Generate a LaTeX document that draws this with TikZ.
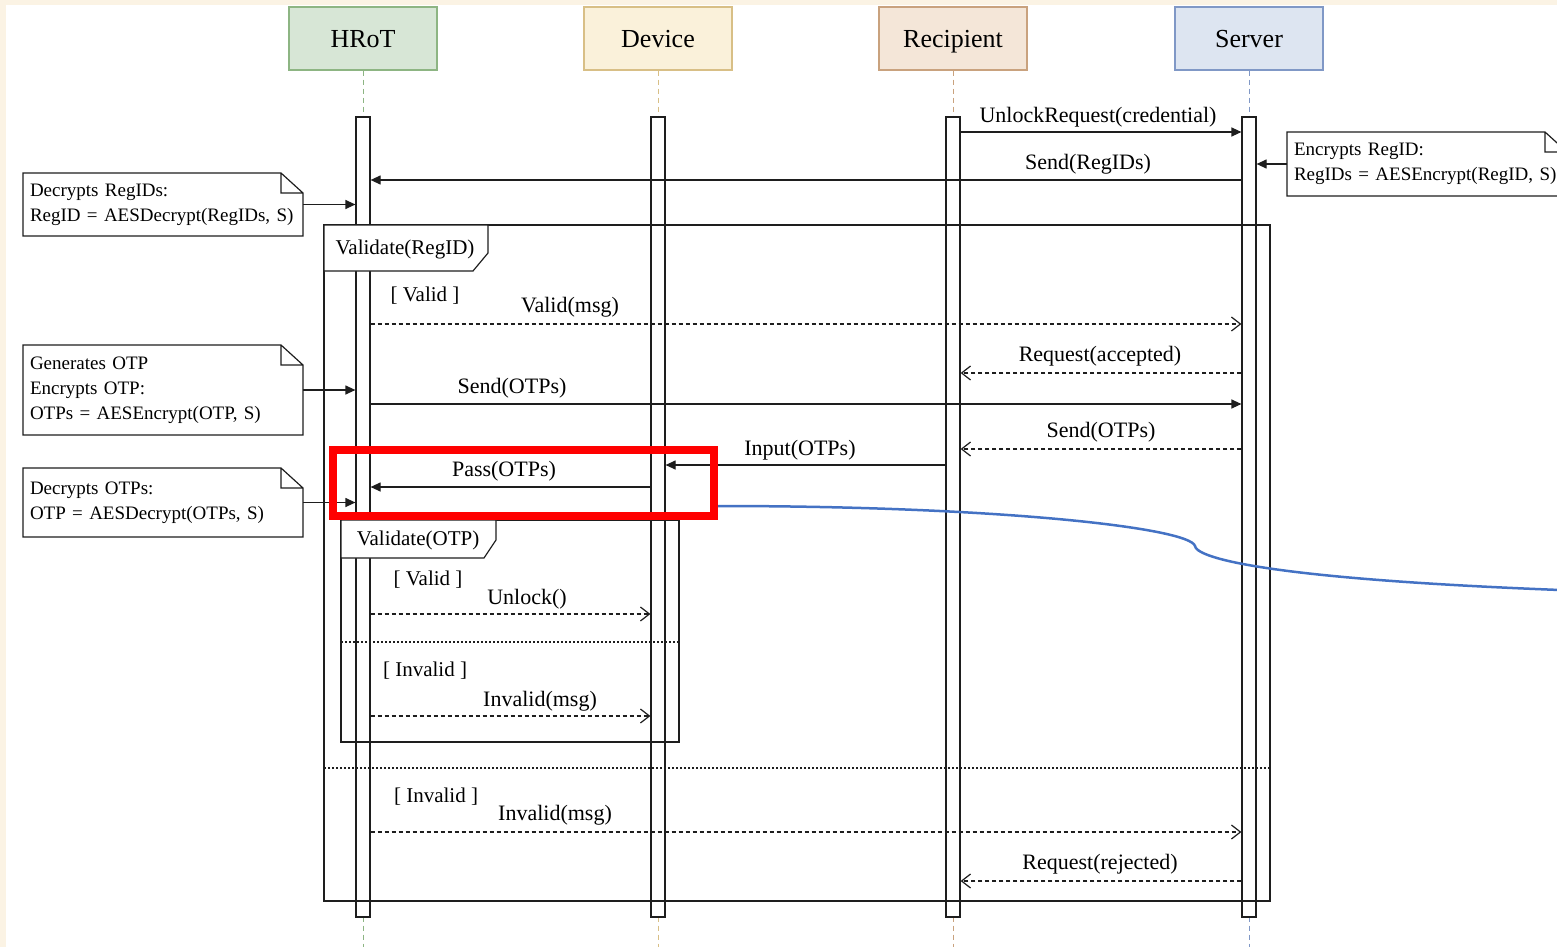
\documentclass[tikz,border=0pt]{standalone}
\usepackage{fontspec}
\setmainfont{Liberation Serif}
\usetikzlibrary{arrows.meta}

\definecolor{paper}{HTML}{FBF3E4}
\definecolor{ink}{HTML}{1E1E1E}
\definecolor{hrotfill}{HTML}{D7E6D6}
\definecolor{hrotedge}{HTML}{8DB583}
\definecolor{devfill}{HTML}{FAF1DA}
\definecolor{devedge}{HTML}{D8BF86}
\definecolor{recfill}{HTML}{F4E6D8}
\definecolor{recedge}{HTML}{C9A27E}
\definecolor{srvfill}{HTML}{DDE5F1}
\definecolor{srvedge}{HTML}{8098C6}
\definecolor{link}{HTML}{4472C4}

\begin{document}
\begin{tikzpicture}[x=0.5pt, y=-0.5pt, line width=0.6pt,
  head/.style={draw, line width=0.6pt, minimum width=74pt, minimum height=31.5pt, text height=8.6pt, text depth=0pt, font=\fontsize{13}{15}\selectfont},
  life/.style={dash pattern=on 2.5pt off 2pt, line width=0.5pt},
  bar/.style={draw=ink, fill=white, minimum width=7pt, minimum height=400pt, inner sep=0pt},
  msg/.style={draw=ink, -{Triangle[length=5pt, width=4.5pt]}},
  reply/.style={draw=ink, dash pattern=on 2pt off 1.5pt, -{Straight Barb[length=4.5pt, width=7pt]}},
  lbl/.style={font=\fontsize{11}{13}\selectfont, inner sep=0pt, yshift=-1pt},
  guard/.style={font=\fontsize{10.5}{12}\selectfont, inner sep=0pt, yshift=-1pt},
  note/.style={minimum width=140pt, text width=133pt, align=left, inner sep=3.5pt, outer sep=0pt, font=\fontsize{9.5}{12.5}\selectfont},
  fragbox/.style={draw=ink},
  fragtab/.style={draw=ink, fill=white},
  split/.style={draw=ink, dash pattern=on 1pt off 1pt}]

  % page
  \clip (0,0) rectangle (1557,947);
  \fill[paper] (0,0) rectangle (1557,947);
  \fill[white] (6,5) rectangle (1557,947);

  % participants
  \node[head, fill=hrotfill, draw=hrotedge] (hrot) at (363,38.5) {HRoT};
  \node[head, fill=devfill, draw=devedge] (dev) at (658,38.5) {Device};
  \node[head, fill=recfill, draw=recedge] (rec) at (953,38.5) {Recipient};
  \node[head, fill=srvfill, draw=srvedge] (srv) at (1249,38.5) {Server};

  % lifelines and activation bars
  \foreach \p/\b/\c in {hrot/hbar/hrotedge, dev/dbar/devedge, rec/rbar/recedge, srv/sbar/srvedge} {
    \draw[life, draw=\c] (\p.south) -- (\p.south |- 0,947);
    \node[bar] (\b) at (\p.south |- 0,517) {};
  }

  % outer fragment
  \draw[fragbox] (324,225) rectangle (1270,901);
  \draw[fragtab] (324,225) -- (488,225) -- (488,253) -- (473,271) -- (324,271) -- cycle;
  \node[guard] (fregid) at (405,247) {Validate(RegID)};
  \draw[split] (324,768) -- (1270,768);

  % inner fragment
  \draw[fragbox] (341,520) rectangle (679,742);
  \draw[fragtab] (341,520) -- (496,520) -- (496,540) -- (484,558) -- (341,558) -- cycle;
  \node[guard] (fotp) at (418,538) {Validate(OTP)};
  \draw[split] (341,642) -- (679,642);

  % messages
  \draw[msg] (rbar.east |- 0,132) -- (sbar.west |- 0,132);
  \node[lbl] (lunlock) at (1098,115) {UnlockRequest(credential)};
  \draw[msg] (sbar.west |- 0,180) -- (hbar.east |- 0,180);
  \node[lbl] (lregids) at (1088,162) {Send(RegIDs)};

  \node[guard] (gvalid) at (425,294) {[ Valid ]};
  \draw[reply] (hbar.east |- 0,324) -- (sbar.west |- 0,324);
  \node[lbl] (lvalid) at (570,305) {Valid(msg)};
  \draw[reply] (sbar.west |- 0,373) -- (rbar.east |- 0,373);
  \node[lbl] (laccept) at (1100,354) {Request(accepted)};
  \draw[msg] (hbar.east |- 0,404) -- (sbar.west |- 0,404);
  \node[lbl] (lsend) at (512,386) {Send(OTPs)};
  \draw[reply] (sbar.west |- 0,449) -- (rbar.east |- 0,449);
  \node[lbl] (lsendback) at (1101,430) {Send(OTPs)};
  \draw[msg] (rbar.west |- 0,465) -- (dbar.east |- 0,465);
  \node[lbl] (linput) at (800,448) {Input(OTPs)};
  \draw[msg] (dbar.west |- 0,487) -- (hbar.east |- 0,487);
  \node[lbl] (lpass) at (504,469) {Pass(OTPs)};

  \node[guard] (gotpok) at (428,578) {[ Valid ]};
  \draw[reply] (hbar.east |- 0,614) -- (dbar.west |- 0,614);
  \node[lbl] (lunlk) at (527,597) {Unlock()};
  \node[guard] (gotpbad) at (425,669) {[ Invalid ]};
  \draw[reply] (hbar.east |- 0,716) -- (dbar.west |- 0,716);
  \node[lbl] (lotpbad) at (540,699) {Invalid(msg)};

  \node[guard] (gbad) at (436,795) {[ Invalid ]};
  \draw[reply] (hbar.east |- 0,832) -- (sbar.west |- 0,832);
  \node[lbl] (lbad) at (555,813) {Invalid(msg)};
  \draw[reply] (sbar.west |- 0,881) -- (rbar.east |- 0,881);
  \node[lbl] (lreject) at (1100,862) {Request(rejected)};

  % notes
  \node[note, minimum height=32pt] (nenc) at (1427,164) {Encrypts RegID:\\RegIDs = AESEncrypt(RegID, S)};
  \node[note, minimum height=31.5pt] (nreg) at (163,204.5) {Decrypts RegIDs:\\RegID = AESDecrypt(RegIDs, S)};
  \node[note, minimum height=45pt] (notp) at (163,390) {Generates OTP\\Encrypts OTP:\\OTPs = AESEncrypt(OTP, S)};
  \node[note, minimum height=34.5pt] (ndec) at (163,502.5) {Decrypts OTPs:\\OTP = AESDecrypt(OTPs, S)};
  \foreach \n in {nenc, nreg, notp, ndec}
    \draw[ink] (\n.south west) -- (\n.north west) -- ([xshift=-11pt]\n.north east)
      -- ([yshift=-10pt]\n.north east) -- (\n.south east) -- cycle
      ([xshift=-11pt]\n.north east) -- ++(0,20) -- ([yshift=-10pt]\n.north east);
  \draw[msg] (nenc.west) -- (sbar.east |- nenc.west);
  \draw[msg] (nreg.east) -- (hbar.west |- nreg.east);
  \draw[msg] (notp.east) -- (hbar.west |- notp.east);
  \draw[msg] (ndec.east) -- (hbar.west |- ndec.east);

  % highlight and callout
  \node[draw=red, line width=4pt, minimum width=190.5pt, minimum height=33pt, inner sep=0pt] (hl) at (523.5,482.5) {};
  \coordinate (tail) at (1560,590);
  \draw[link, line width=1.25pt] (hl.east |- 0,506) .. controls (1000,506) and (1190,528) .. (1195,546)
    .. controls (1196,556) and (1250,578) .. (tail);
\end{tikzpicture}
\end{document}
